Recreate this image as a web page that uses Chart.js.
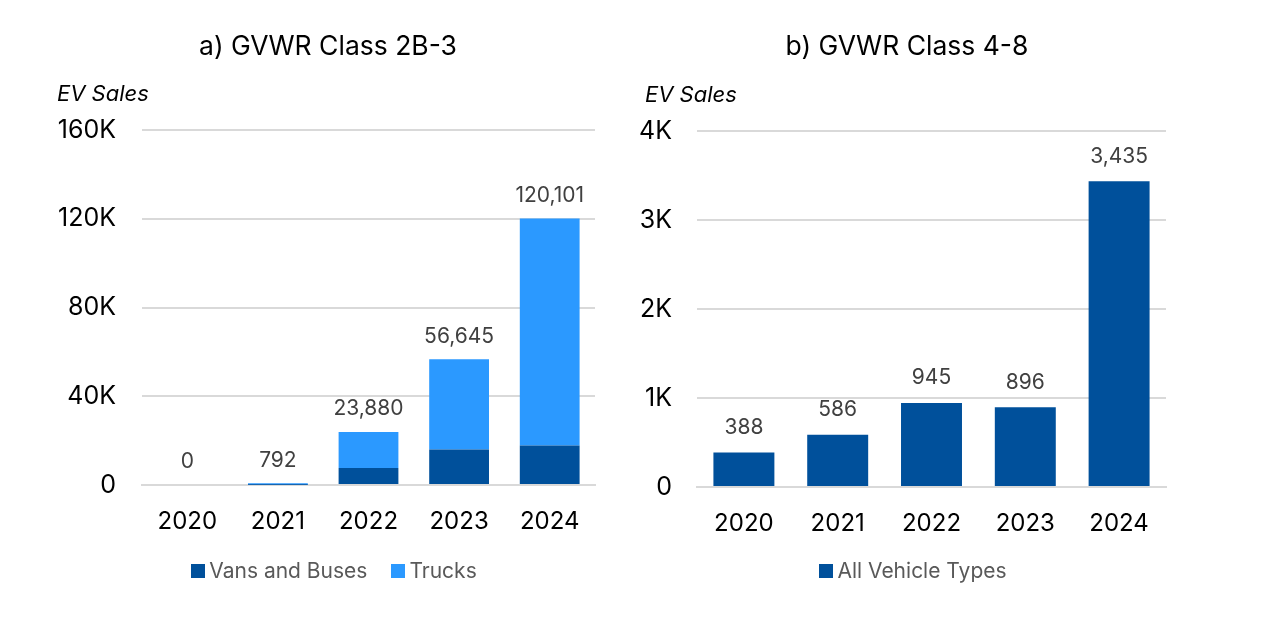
<!DOCTYPE html>
<html>
<head>
<meta charset="utf-8">
<script src="https://cdn.jsdelivr.net/npm/chart.js@4.4.1/dist/chart.umd.min.js"></script>
<style>
  html, body { margin: 0; padding: 0; background: #fff; }
  body { font-family: Inter, "Open Sans", sans-serif; }
  #wrap { position: relative; width: 1267px; height: 631px; }
  .box { position: absolute; top: 0; height: 631px; }
  #leftBox { left: 0; width: 633px; }
  #rightBox { left: 633px; width: 634px; }
  .title {
    position: absolute; top: 28px; width: 400px; margin-left: -200px;
    text-align: center; font-size: 26.5px; line-height: 34px; color: #000; white-space: nowrap;
  }
  .legend {
    position: absolute; top: 558px; width: 500px; margin-left: -250px;
    display: flex; justify-content: center; align-items: center;
    font-size: 21px; line-height: 26px; color: #595959; white-space: nowrap;
  }
  .legend .item { display: flex; align-items: center; margin: 0 12px; }
  .legend .swatch { width: 14px; height: 14px; margin-right: 4px; }
</style>
</head>
<body>
<div id="wrap">
  <div class="box" id="leftBox"><canvas id="lightChart"></canvas></div>
  <div class="box" id="rightBox"><canvas id="heavyChart"></canvas></div>
  <div class="title" style="left: 328px;">a) GVWR Class 2B-3</div>
  <div class="title" style="left: 907px;">b) GVWR Class 4-8</div>
  <div class="legend" id="lightLegend" style="left: 334px;"></div>
  <div class="legend" id="heavyLegend" style="left: 913px;"></div>
</div>
<script>
const years = ['2020', '2021', '2022', '2023', '2024'];

// a) GVWR Class 2B-3
const vansBuses = [0, 150, 7700, 16000, 17800];
const trucks = [0, 642, 16180, 40645, 102301];
const lightTotals = [0, 792, 23880, 56645, 120101];

// b) GVWR Class 4-8
const allTypes = [388, 586, 945, 896, 3435];

const FONT = 'Inter, "Open Sans", sans-serif';
const DARK = '#00509b';
const LIGHT = '#2b99ff';
const GRID = '#d9d9d9';

Chart.defaults.font.family = FONT;
Chart.defaults.animation = false;

const fmt = v => v.toLocaleString('en-US');

// totals drawn above each bar, plus the "EV Sales" caption
const labelsPlugin = {
    id: 'labels',
    afterDatasetsDraw(chart, args, opts) {
        const ctx = chart.ctx;
        const y = chart.scales.y;
        const x = chart.scales.x;
        ctx.save();
        ctx.fillStyle = '#404040';
        ctx.font = '21px ' + FONT;
        ctx.textAlign = 'center';
        ctx.textBaseline = 'middle';
        opts.totals.forEach((t, i) => {
            ctx.fillText(fmt(t), x.getPixelForValue(i), y.getPixelForValue(t) - opts.gap);
        });
        ctx.fillStyle = '#000';
        ctx.font = 'italic 22px ' + FONT;
        ctx.textAlign = 'left';
        ctx.fillText('EV Sales', opts.captionX, chart.chartArea.top - opts.captionUp);
        ctx.restore();
    }
};

// legend built as html so it can sit where the original one sits
const htmlLegend = {
    id: 'htmlLegend',
    afterUpdate(chart, args, opts) {
        const $box = document.getElementById(opts.containerID);
        $box.innerHTML = '';
        chart.data.datasets.forEach(ds => {
            const item = document.createElement('div');
            item.className = 'item';
            const sw = document.createElement('span');
            sw.className = 'swatch';
            sw.style.background = ds.backgroundColor;
            const txt = document.createElement('span');
            txt.textContent = ds.label;
            item.appendChild(sw);
            item.appendChild(txt);
            $box.appendChild(item);
        });
    }
};

const baseOptions = (o) => ({
    responsive: true,
    maintainAspectRatio: false,
    layout: { padding: { top: o.padTop, right: o.padRight, bottom: o.padBottom, left: 0 } },
    scales: {
        x: {
            stacked: true,
            grid: { display: false },
            border: { color: GRID, width: 2 },
            ticks: { color: '#000', font: { size: 24 }, padding: 14 },
            afterFit: s => { s.height = 63; }
        },
        y: {
            stacked: true,
            min: 0,
            max: o.max,
            grid: { color: GRID, lineWidth: 2, drawTicks: false },
            border: { display: false },
            ticks: {
                stepSize: o.step,
                color: '#000',
                font: { size: 25 },
                padding: o.tickPad,
                callback: v => v === 0 ? '0' : (v / 1000) + 'K'
            },
            afterFit: s => { s.width = o.yWidth; }
        }
    },
    plugins: {
        title: { display: false },
        legend: { display: false },
        tooltip: { enabled: false },
        htmlLegend: { containerID: o.legendID },
        labels: { totals: o.totals, gap: o.gap, captionX: o.captionX, captionUp: 36 }
    }
});

new Chart(document.getElementById('lightChart'), {
    type: 'bar',
    data: {
        labels: years,
        datasets: [
            { label: 'Vans and Buses', data: vansBuses, backgroundColor: DARK, barPercentage: 0.66, categoryPercentage: 1 },
            { label: 'Trucks', data: trucks, backgroundColor: LIGHT, barPercentage: 0.66, categoryPercentage: 1 }
        ]
    },
    options: baseOptions({
        max: 160000, step: 40000, yWidth: 142, tickPad: 26,
        padTop: 130, padRight: 38, padBottom: 83, gap: 23,
        totals: lightTotals, captionX: 57, legendID: 'lightLegend'
    }),
    plugins: [labelsPlugin, htmlLegend]
});

new Chart(document.getElementById('heavyChart'), {
    type: 'bar',
    data: {
        labels: years,
        datasets: [
            { label: 'All Vehicle Types', data: allTypes, backgroundColor: DARK, barPercentage: 0.65, categoryPercentage: 1 }
        ]
    },
    options: baseOptions({
        max: 4000, step: 1000, yWidth: 64, tickPad: 25,
        padTop: 131, padRight: 101, padBottom: 81, gap: 25,
        totals: allTypes, captionX: 12, legendID: 'heavyLegend'
    }),
    plugins: [labelsPlugin, htmlLegend]
});
</script>
</body>
</html>
